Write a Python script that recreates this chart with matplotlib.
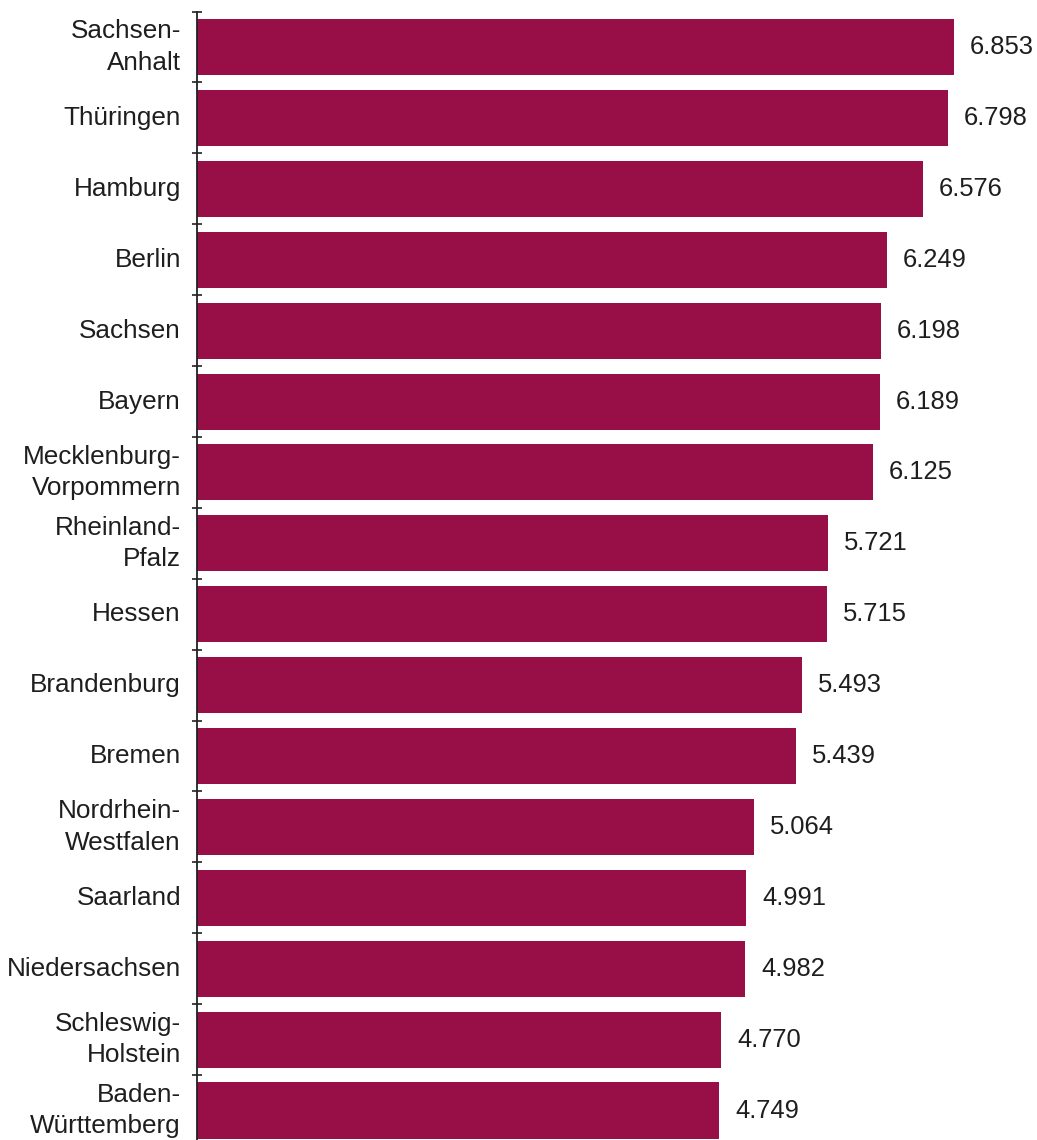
import matplotlib
matplotlib.use("Agg")
import matplotlib.pyplot as plt
import numpy as np

states = ["Sachsen-\nAnhalt", "Thüringen", "Hamburg", "Berlin", "Sachsen", "Bayern",
          "Mecklenburg-\nVorpommern", "Rheinland-\nPfalz", "Hessen", "Brandenburg",
          "Bremen", "Nordrhein-\nWestfalen", "Saarland", "Niedersachsen",
          "Schleswig-\nHolstein", "Baden-\nWürttemberg"]
values = [6.853, 6.798, 6.576, 6.249, 6.198, 6.189, 6.125, 5.721, 5.715, 5.493,
          5.439, 5.064, 4.991, 4.982, 4.770, 4.749]
value_labels = ["6.853", "6.798", "6.576", "6.249", "6.198", "6.189", "6.125", "5.721",
                "5.715", "5.493", "5.439", "5.064", "4.991", "4.982", "4.770", "4.749"]

plt.rcParams['font.family'] = ['Liberation Sans', 'DejaVu Sans']

W, H = 1037, 1140
fig = plt.figure(figsize=(W / 100, H / 100), dpi=100)
fig.patch.set_facecolor("white")

left_px, top_px = 197, 11.6
ax = fig.add_axes([left_px / W, 0, (W - left_px) / W, 1 - top_px / H])

scale = 111.7  # px per unit
x0 = (left_px - 188.5) / scale
x1 = x0 + (W - left_px) / scale
ax.set_xlim(x0, x1)

pitch = 70.9
ybot = (H - 47) / pitch
ax.set_ylim(ybot, -0.5)

y = np.arange(len(states))
ax.barh(y, values, height=0.79, color="#980E46", left=0)

for yi, v, lab in zip(y, values, value_labels):
    ax.text(v + 16 / scale, yi, lab, va="center", ha="left", fontsize=18.4, color="#1e1e1e")

for yi, s in zip(y, states):
    ax.text(x0 - 16 / scale, yi, s, va="center", ha="right", fontsize=18.8,
            color="#1e1e1e", linespacing=1.39, clip_on=False)

for s in ["top", "right", "bottom"]:
    ax.spines[s].set_visible(False)
ax.spines["left"].set_linewidth(1.3)
ax.spines["left"].set_color("#222222")
ax.set_xticks([])
ax.set_yticks(np.arange(-0.5, len(states) - 0.5, 1.0))
ax.set_yticklabels([])
ax.tick_params(axis="y", direction="inout", length=7, width=1.2, color="#222222")

fig.savefig("out.png", dpi=100, facecolor="white")
